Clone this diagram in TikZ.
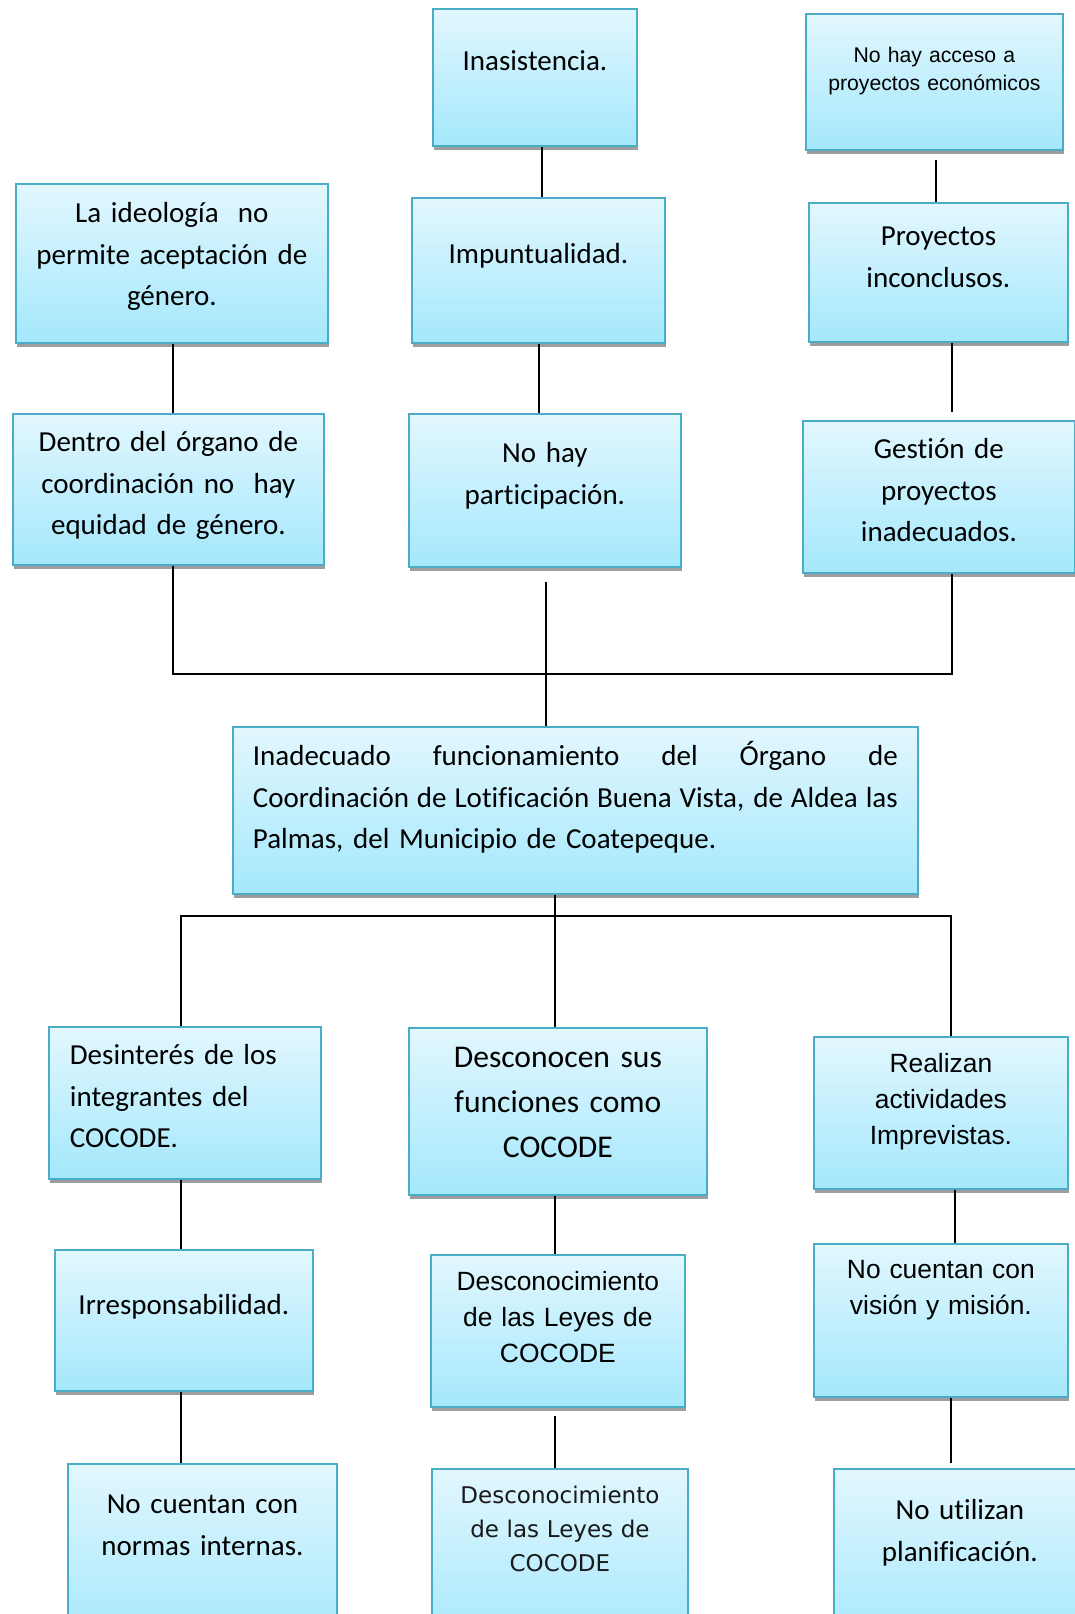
\documentclass[tikz,border=0pt]{standalone}
\usepackage{fontspec}
\setmainfont{Carlito}[WordSpace=0.8, Ligatures=NoCommon]
\newfontfamily\arialfam{Liberation Sans}
\newfontfamily\pixelfam{DejaVu Sans}
\usetikzlibrary{shadows}

\definecolor{bordecaja}{RGB}{75,172,198}
\definecolor{arribacaja}{RGB}{226,247,254}
\definecolor{abajocaja}{RGB}{164,232,252}
\definecolor{sombracaja}{RGB}{158,158,158}

\tikzset{
  caja/.style={draw=bordecaja, line width=1.8pt, top color=arribacaja, bottom color=abajocaja,
    anchor=north west, inner xsep=6pt, inner ysep=0pt, align=center,
    font=\fontsize{29}{41.3}\selectfont,
    drop shadow={shadow xshift=1pt, shadow yshift=-4pt, fill=sombracaja, opacity=1}},
  cajaA/.style={caja, font=\arialfam\fontsize{26.4}{35.7}\selectfont},
  tam/.style n args={3}{text width=#1pt, text height=#2pt, text depth=#3pt},
  linea/.style={line width=2pt}
}

\begin{document}
\begin{tikzpicture}[x=1pt, y=-1pt]
  \useasboundingbox (0,0) rectangle (1075,1614);

  % fila 1
  \node[caja, tam={192}{62}{75}] (ina) at (432,8) {Inasistencia.};
  \node[caja, tam={245}{49}{87}, font=\arialfam\fontsize{21.2}{28}\selectfont] (acceso) at (805,13)
    {No hay acceso a\\proyectos económicos};

  % fila 2
  \node[caja, tam={300}{39}{120}] (ideo) at (15,183) {La ideología~ no\\permite aceptación de\\género.};
  \node[caja, tam={241}{66}{79}] (impu) at (411,197) {Impuntualidad.};
  \node[caja, tam={247}{43}{96}] (proy) at (808,202) {Proyectos\\inconclusos.};

  % fila 3
  \node[caja, tam={299}{38}{113}] (dentro) at (12,413) {Dentro del órgano de\\coordinación no~ hay\\equidad de género.};
  \node[caja, tam={260}{49}{104}] (part) at (408,413) {No hay\\participación.};
  \node[caja, tam={260}{38}{114}] (gest) at (802,420) {Gestión de\\proyectos\\inadecuados.};

  % problema central
  \node[caja, tam={645}{39}{128}, inner xsep=20pt, align=left] (central) at (232,726)
    {\leavevmode\hbox to 645pt{Inadecuado\hfil funcionamiento\hfil del\hfil Órgano\hfil de}\\
     \leavevmode\hbox to 645pt{\spaceskip=0.12em plus 1fil Coordinación de Lotificación Buena Vista, de Aldea las}\\
     Palmas, del Municipio de Coatepeque.};

  % efectos
  \node[caja, tam={230}{38}{114}, inner xsep=21pt, align=left] (desi) at (48,1026)
    {Desinterés de los\\integrantes del\\COCODE.};
  \node[caja, tam={286}{40}{127}, font=\fontsize{31.6}{45}\selectfont] (desc) at (408,1027)
    {Desconocen sus\\funciones como\\COCODE};
  \node[cajaA, tam={242}{36}{116}] (real) at (813,1036) {Realizan\\actividades\\Imprevistas.};

  \node[caja, tam={246}{65}{76}] (irre) at (54,1249) {Irresponsabilidad.};
  \node[cajaA, tam={242}{36}{116}] (leyes) at (430,1254) {Desconocimiento\\de las Leyes de\\COCODE};
  \node[cajaA, tam={242}{35}{118}] (vision) at (813,1243) {No cuentan con\\visión y misión.};

  \node[caja, tam={257}{50}{130}] (normas) at (67,1463) {No cuentan con\\normas internas.};
  \node[caja, tam={244}{35}{145}, font=\pixelfam\fontsize{23}{33.7}\selectfont, text=black!90] (leyesb) at (431,1468)
    {Desconocimiento\\de las Leyes de\\COCODE};
  \node[caja, tam={240}{51}{129}] (util) at (833,1468) {No utilizan\\planificación.};

  % conectores
  \coordinate (cA) at (173,674);
  \coordinate (cB) at (951.5,674);
  \coordinate (cC) at (546,582);
  \coordinate (cD) at (181,916);
  \coordinate (cE) at (951,916);
  \coordinate (xina) at (541.6,0);
  \coordinate (ximp) at (538.5,0);
  \coordinate (xacc) at (936,0);
  \coordinate (xpro) at (952,0);
  \coordinate (xmed) at (555,0);
  \coordinate (xrea) at (954.5,0);

  \draw[linea] (ina.south -| xina) -- (impu.north -| xina);
  \draw[linea, shorten <=9pt] (acceso.south -| xacc) -- (proy.north -| xacc);
  \draw[linea] (ideo.south -| cA) -- (dentro.north -| cA);
  \draw[linea] (impu.south -| ximp) -- (part.north -| ximp);
  \draw[linea, shorten >=8pt] (proy.south -| xpro) -- (gest.north -| xpro);

  \draw[linea] (dentro.south -| cA) -- (cA) -- (cB) -- (gest.south -| cB);
  \draw[linea] (cC) -- (central.north -| cC);

  \draw[linea] (central.south -| xmed) -- (desc.north -| xmed);
  \draw[linea] (desi.north -| cD) -- (cD) -- (cE) -- (real.north -| cE);
  \draw[linea] (desi.south -| cD) -- (irre.north -| cD);
  \draw[linea] (desc.south -| xmed) -- (leyes.north -| xmed);
  \draw[linea] (real.south -| xrea) -- (vision.north -| xrea);
  \draw[linea] (irre.south -| cD) -- (normas.north -| cD);
  \draw[linea, shorten <=8pt] (leyes.south -| xmed) -- (leyesb.north -| xmed);
  \draw[linea, shorten >=5pt] (vision.south -| cE) -- (util.north -| cE);
\end{tikzpicture}
\end{document}
